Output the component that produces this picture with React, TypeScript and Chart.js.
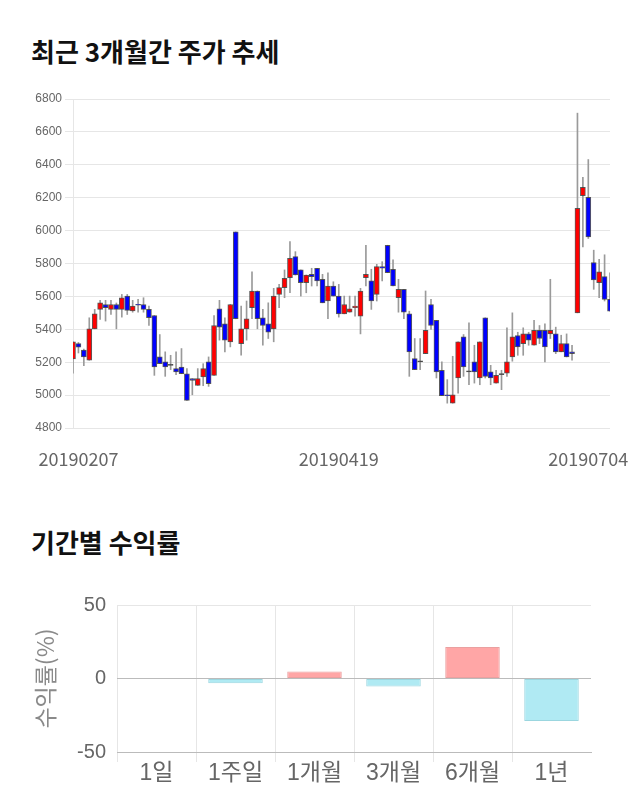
import React, { useEffect, useRef } from 'react';
import { Chart, registerables } from 'chart.js';

Chart.register(...registerables);

// ---- Candle data ----
const opens = [
  5220, 5313, 5273, 5212, 5403, 5521, 5551, 5521, 5551, 5521,
  5602, 5511, 5551, 5551, 5521, 5484, 5232, 5202, 5181, 5161,
  5171, 5130, 5100, 5059, 5110, 5202, 5120, 5525, 5433, 5324,
  5992, 5313, 5403, 5531, 5633, 5470, 5433, 5403, 5612, 5653,
  5714, 5842, 5761, 5683, 5734, 5771, 5704, 5572, 5663, 5602,
  5494, 5504, 5531, 5480, 5714, 5694, 5612, 5781, 5911, 5765,
  5592, 5643, 5494, 5222, 5202, 5252, 5551, 5454, 5151, 5002,
  4951, 5104, 5354, 5141, 5202, 5104, 5470, 5141, 5073, 5124,
  5134, 5232, 5362, 5313, 5372, 5303, 5393, 5393, 5372, 5372,
  5263, 5313, 5263, 5500, 6212, 6202, 5805, 5683, 5720, 5582,
];
const highs = [
  5324, 5320, 5280, 5470, 5521, 5576, 5576, 5576, 5560, 5612,
  5612, 5576, 5582, 5592, 5541, 5484, 5368, 5263, 5242, 5263,
  5283, 5161, 5100, 5161, 5191, 5232, 5484, 5576, 5470, 5551,
  5992, 5541, 5572, 5750, 5633, 5521, 5561, 5649, 5673, 5761,
  5933, 5872, 5761, 5730, 5771, 5771, 5734, 5744, 5689, 5673,
  5602, 5602, 5602, 5649, 5911, 5765, 5795, 5811, 5911, 5822,
  5704, 5643, 5510, 5344, 5344, 5633, 5582, 5454, 5202, 5094,
  5236, 5324, 5368, 5439, 5303, 5324, 5470, 5181, 5151, 5151,
  5409, 5500, 5382, 5409, 5382, 5454, 5423, 5433, 5704, 5413,
  5364, 5372, 5303, 6714, 6324, 6432, 5881, 5826, 5853, 5744,
];
const lows = [
  5134, 5256, 5179, 5212, 5403, 5460, 5450, 5490, 5403, 5474,
  5490, 5504, 5504, 5504, 5423, 5120, 5191, 5114, 5155, 5124,
  5130, 4968, 5002, 5059, 5057, 5053, 5120, 5334, 5263, 5293,
  5464, 5242, 5334, 5464, 5403, 5303, 5344, 5324, 5531, 5592,
  5622, 5730, 5602, 5622, 5663, 5663, 5561, 5464, 5602, 5474,
  5494, 5504, 5480, 5372, 5663, 5521, 5572, 5694, 5744, 5663,
  5504, 5464, 5114, 5155, 5155, 5252, 5399, 5104, 4996, 4951,
  4951, 5012, 5114, 5063, 5073, 5063, 5104, 5063, 5073, 5033,
  5114, 5206, 5242, 5242, 5303, 5303, 5313, 5202, 5344, 5252,
  5263, 5232, 5212, 5500, 5901, 5952, 5643, 5592, 5572, 5510,
];
const closes = [
  5324, 5291, 5232, 5403, 5494, 5561, 5531, 5551, 5521, 5592,
  5515, 5541, 5546, 5521, 5470, 5171, 5191, 5171, 5181, 5141,
  5130, 4968, 5090, 5100, 5161, 5069, 5423, 5413, 5334, 5551,
  5464, 5403, 5464, 5633, 5464, 5423, 5382, 5602, 5653, 5710,
  5832, 5730, 5683, 5730, 5720, 5694, 5561, 5663, 5602, 5494,
  5551, 5525, 5541, 5633, 5734, 5572, 5781, 5771, 5744, 5663,
  5643, 5504, 5263, 5155, 5202, 5393, 5423, 5141, 4996, 4996,
  5002, 5324, 5171, 5141, 5141, 5324, 5114, 5104, 5120, 5124,
  5202, 5354, 5293, 5372, 5334, 5393, 5344, 5293, 5393, 5263,
  5313, 5232, 5252, 6135, 6263, 5962, 5700, 5750, 5582, 5510,
];

const xTickIndex = [1, 49, 95];
const xTickText = ['20190207', '20190419', '20190704'];
const priceMin = 4800;
const priceMax = 6800;
const priceStep = 200;

// ---- Period returns ----
const periods = ['1일', '1주일', '1개월', '3개월', '6개월', '1년'];
const returns = [0, -3.3, 4.8, -5.4, 21.5, -28.9];
const returnMin = -50;
const returnMax = 50;
const returnStep = 50;

const UP = '#ff0000';
const DOWN = '#0000ff';
const FLAT = '#333333';

export default function App() {
  const c1 = useRef<HTMLCanvasElement | null>(null);
  const c2 = useRef<HTMLCanvasElement | null>(null);

  useEffect(() => {
    const labels = opens.map((_, i) => String(i));
    const bodyColors = opens.map((o, i) => (closes[i] > o ? UP : closes[i] < o ? DOWN : FLAT));
    const chart1 = new Chart(c1.current as HTMLCanvasElement, {
      type: 'bar',
      data: {
        labels,
        datasets: [
          {
            data: opens.map((o, i) => [o, closes[i]]) as any,
            backgroundColor: bodyColors,
            borderColor: 'rgba(60,60,60,0.85)',
            borderWidth: 1,
            borderSkipped: false,
            barThickness: 5,
            minBarLength: 1,
            grouped: false,
            order: 0,
          } as any,
          {
            data: lows.map((l, i) => [l, highs[i]]) as any,
            backgroundColor: '#9a9a9a',
            borderWidth: 0,
            barThickness: 1,
            grouped: false,
            order: 1,
          } as any,
        ],
      },
      options: {
        animation: false,
        responsive: false,
        maintainAspectRatio: false,
        layout: { padding: { left: 0, right: 30, top: 19, bottom: 0 } },
        plugins: { legend: { display: false }, tooltip: { enabled: false } },
        scales: {
          x: {
            offset: false,
            grid: { display: false, drawTicks: false },
            border: { display: false },
            ticks: {
              autoSkip: false,
              maxRotation: 0,
              minRotation: 0,
              padding: 20,
              color: '#666',
              font: { family: '"Noto Sans CJK KR", sans-serif', size: 18 },
              callback: (_v: any, i: number) => {
                const k = xTickIndex.indexOf(i);
                return k >= 0 ? xTickText[k] : '';
              },
            },
            afterFit: (s: any) => {
              s.height = 62;
            },
          },
          y: {
            min: priceMin,
            max: priceMax,
            ticks: {
              stepSize: priceStep,
              color: '#666',
              padding: 3,
              font: { family: '"Liberation Sans", Arial, sans-serif', size: 12 },
              callback: (v: any) => String(v),
            },
            grid: { color: '#e6e6e6', tickLength: 8 },
            border: { color: '#e6e6e6' },
            afterFit: (s: any) => {
              s.width = 73;
            },
          },
        },
      } as any,
    });

    const chart2 = new Chart(c2.current as HTMLCanvasElement, {
      type: 'bar',
      data: {
        labels: periods,
        datasets: [
          {
            data: returns,
            backgroundColor: returns.map((v) => (v >= 0 ? '#ffa6a6' : '#b0eaf3')),
            borderColor: returns.map((v) => (v >= 0 ? '#eaa0a0' : '#9bd6df')),
            borderWidth: 1,
            borderSkipped: false,
            categoryPercentage: 1,
            barPercentage: 0.69,
          } as any,
        ],
      },
      options: {
        animation: false,
        responsive: false,
        maintainAspectRatio: false,
        layout: { padding: { left: 0, right: 49, top: 15, bottom: 0 } },
        plugins: { legend: { display: false }, tooltip: { enabled: false } },
        scales: {
          x: {
            grid: {
              offset: true,
              tickLength: 10,
              color: (c: any) => (c.tick ? '#e6e6e6' : 'rgba(0,0,0,0)'),
            },
            border: { color: '#bbbbbb' },
            ticks: {
              color: '#666',
              padding: -2,
              font: { family: '"Liberation Sans", "Noto Sans CJK KR", sans-serif', size: 23 },
            },
            afterFit: (s: any) => {
              s.height = 48;
            },
          },
          y: {
            min: returnMin,
            max: returnMax,
            ticks: {
              stepSize: returnStep,
              color: '#666',
              padding: 0,
              font: { family: '"Liberation Sans", Arial, sans-serif', size: 20 },
            },
            grid: {
              drawTicks: true,
              tickLength: 11,
              tickColor: 'rgba(0,0,0,0)',
              color: (c: any) => (c.tick && c.tick.value === returnMax ? '#e6e6e6' : '#bbbbbb'),
            },
            border: { display: false },
            title: {
              display: true,
              text: '수익률(%)',
              color: '#8a8a8a',
              font: { family: '"Noto Sans CJK KR", sans-serif', size: 23 },
              padding: { top: 31, bottom: 0 },
            },
            afterFit: (s: any) => {
              s.width = 117;
            },
          },
        },
      } as any,
    });

    return () => {
      chart1.destroy();
      chart2.destroy();
    };
  }, []);

  const titleStyle: React.CSSProperties = {
    position: 'absolute',
    left: 31,
    fontFamily: '"Noto Sans CJK KR", sans-serif',
    fontWeight: 700,
    fontSize: 26,
    lineHeight: '32px',
    color: '#111',
    whiteSpace: 'nowrap',
  };

  return (
    <div style={{ position: 'absolute', left: 0, top: 0, width: 640, height: 810, background: '#fff', overflow: 'hidden' }}>
      <div style={{ ...titleStyle, top: 35 }}>최근 3개월간 주가 추세</div>
      <canvas
        ref={c1}
        width={640}
        height={410}
        style={{ position: 'absolute', left: 0, top: 80, width: 640, height: 410 }}
      />
      <div style={{ ...titleStyle, top: 526 }}>기간별 수익률</div>
      <canvas
        ref={c2}
        width={640}
        height={210}
        style={{ position: 'absolute', left: 0, top: 590, width: 640, height: 210 }}
      />
    </div>
  );
}
